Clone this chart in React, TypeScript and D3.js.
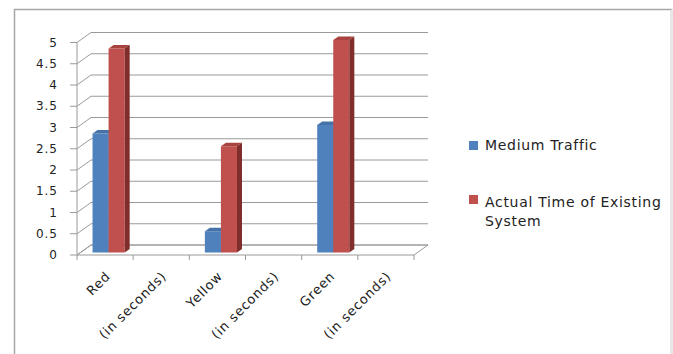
import React from "react";
import * as d3 from "d3";

// Category axis labels (the "(in seconds)" slots carry no values)
const categories = ["Red", "(in seconds)", "Yellow", "(in seconds)", "Green", "(in seconds)"];
const mediumTraffic: (number | null)[] = [2.8, null, 0.5, null, 3, null];
const actualTime: (number | null)[] = [4.8, null, 2.5, null, 5, null];
const yTicks = [0, 0.5, 1, 1.5, 2, 2.5, 3, 3.5, 4, 4.5, 5];
const seriesNames = ["Medium Traffic", ["Actual Time of Existing", "System"]];

const W = 673;
const H = 354;
const FONT = "'DejaVu Sans', sans-serif";

// Oblique 3D geometry: depth vector of the plot box
const DX = 14;
const DY = -10;
const BAR_FRONT = 0.25; // bar front plane as fraction of depth
const BAR_DEPTH = 0.36;

const series = [
  { values: mediumTraffic, front: "#4F81BD", top: "#4572A8", side: "#385D8A" },
  { values: actualTime, front: "#C0504D", top: "#A9433F", side: "#7F2E2C" },
];

export default function App() {
  const x = d3.scaleBand<number>().domain(d3.range(categories.length)).range([77, 414]).padding(0);
  const y = d3.scaleLinear().domain([0, 5]).range([255, 42.5]);
  const bw = x.bandwidth();
  const gap = 1.5;
  const barW = bw / (series.length + gap);
  const inner = d3
    .scaleBand<number>()
    .domain(d3.range(series.length))
    .range([(barW * gap) / 2, bw - (barW * gap) / 2])
    .padding(0);

  const x0 = x.range()[0];
  const x1 = x.range()[1];
  const y0 = y(0);
  const grid = "#9a9a9a";

  const fx = DX * BAR_FRONT;
  const fy = DY * BAR_FRONT;
  const ddx = DX * BAR_DEPTH;
  const ddy = DY * BAR_DEPTH;

  const pts = (p: [number, number][]) => p.map((q) => q.join(",")).join(" ");

  return (
    <svg width={W} height={H} style={{ position: "absolute", left: 0, top: 0, background: "#fff" }}>
      {/* chart frame */}
      <path d={`M14.5,${H} V9.5 H671.5 V${H}`} fill="none" stroke="#a6a6a6" strokeWidth={1.5} />
      <line x1={671.5} y1={9.5} x2={671.5} y2={H} stroke="#e6e6e6" strokeWidth={1.5} />

      {/* back wall gridlines and side wall diagonals */}
      {yTicks.map((t) => (
        <g key={t}>
          <line x1={x0 + DX} x2={x1 + DX} y1={y(t) + DY} y2={y(t) + DY} stroke={grid} strokeWidth={1} />
          <line x1={x0} x2={x0 + DX} y1={y(t)} y2={y(t) + DY} stroke={grid} strokeWidth={1} />
          <line x1={x0 - 7} x2={x0} y1={y(t)} y2={y(t)} stroke={grid} strokeWidth={1} />
          <text
            x={58}
            y={y(t)}
            dy="0.35em"
            textAnchor="end"
            fontFamily={FONT}
            fontSize={12}
            letterSpacing={1}
            fill="#222"
          >
            {String(t)}
          </text>
        </g>
      ))}
      {/* vertical axis */}
      <line x1={x0} x2={x0} y1={y(5)} y2={y0} stroke={grid} />
      {/* floor */}
      <polygon
        points={pts([
          [x0, y0],
          [x1, y0],
          [x1 + DX, y0 + DY],
          [x0 + DX, y0 + DY],
        ])}
        fill="none"
        stroke={grid}
      />
      {/* category ticks */}
      {d3.range(categories.length + 1).map((i) => {
        const tx = x0 + i * bw;
        return <line key={i} x1={tx} x2={tx} y1={y0} y2={y0 + 5} stroke={grid} />;
      })}

      {/* 3D columns */}
      {categories.map((_, ci) =>
        series.map((s, si) => {
          const v = s.values[ci];
          if (v == null) return null;
          const left = (x(ci) as number) + (inner(si) as number) + fx;
          const right = left + inner.bandwidth();
          const top = y(v) + fy;
          const bottom = y0 + fy;
          return (
            <g key={`${ci}-${si}`}>
              <rect x={left} y={top} width={right - left} height={bottom - top} fill={s.front} />
              <polygon
                points={pts([
                  [left, top],
                  [right, top],
                  [right + ddx, top + ddy],
                  [left + ddx, top + ddy],
                ])}
                fill={s.top}
              />
              <polygon
                points={pts([
                  [right, top],
                  [right + ddx, top + ddy],
                  [right + ddx, bottom + ddy],
                  [right, bottom],
                ])}
                fill={s.side}
              />
            </g>
          );
        })
      )}

      {/* category labels */}
      {categories.map((c, i) => {
        const cx = (x(i) as number) + bw / 2 + 6;
        return (
          <text
            key={i}
            transform={`translate(${cx},${y0 + 22}) rotate(-45)`}
            textAnchor="end"
            fontFamily={FONT}
            fontSize={13}
            letterSpacing={0.8}
            fill="#222"
          >
            {c}
          </text>
        );
      })}

      {/* legend */}
      <rect x={469} y={141} width={9} height={9} fill={series[0].front} />
      <text x={485} y={150} fontFamily={FONT} fontSize={14} letterSpacing={0.7} fill="#222">
        {seriesNames[0] as string}
      </text>
      <rect x={469} y={195} width={9} height={9} fill={series[1].front} />
      <text fontFamily={FONT} fontSize={14} letterSpacing={0.7} fill="#222">
        {(seriesNames[1] as string[]).map((line, k) => (
          <tspan key={k} x={485} y={207 + k * 19}>
            {line}
          </tspan>
        ))}
      </text>
    </svg>
  );
}
